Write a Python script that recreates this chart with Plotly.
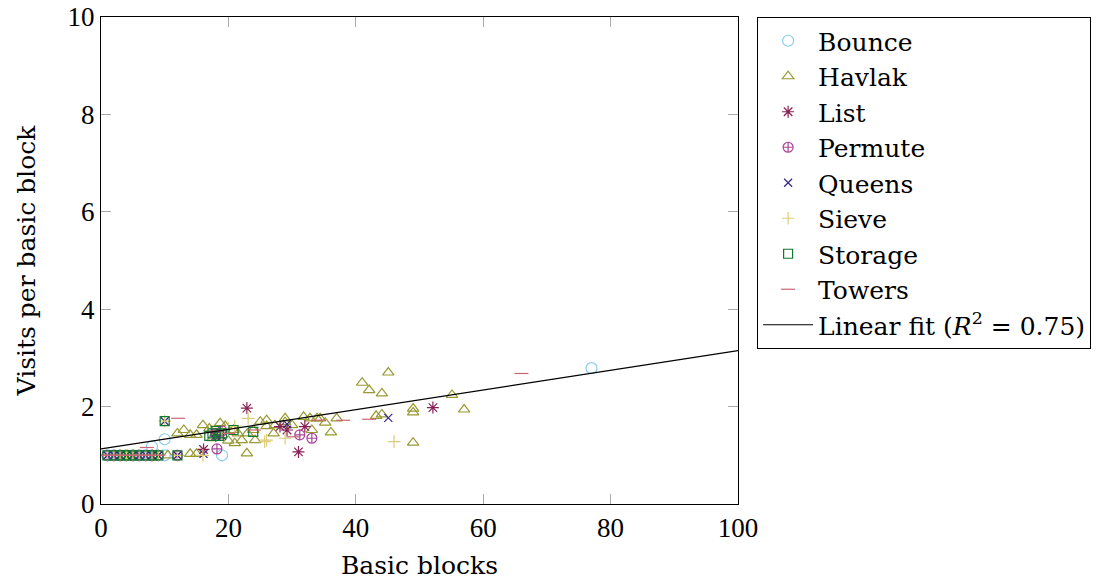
import plotly.graph_objects as go

# ---- data ----
bounce_x = [1, 2, 3, 4, 5, 6, 7, 8, 8, 10, 10, 19, 77]
bounce_y = [1, 1, 1, 1, 1, 1, 1, 1, 1.18, 1.0, 1.33, 1.0, 2.79]

havlak_x = [10.5, 12, 13, 14, 15, 16, 14, 15, 17, 18.7, 20, 20.8, 21, 22.1, 22.9, 23.9, 24.2,
            25, 26, 26, 27.1, 27.3, 28.9, 28.9, 30, 31.8, 32.8, 33.1, 33.9, 34.4, 35.2, 36.1,
            37, 41, 42.1, 43.2, 44.1, 44.1, 45.1, 49, 49, 49, 55.1, 57, 17.5, 19.5, 21.5, 23]
havlak_y = [1.0, 1.45, 1.52, 1.42, 1.42, 1.62, 1.03, 1.03, 1.55, 1.66, 1.3, 1.52, 1.25, 1.31, 1.04,
            1.52, 1.31, 1.69, 1.72, 1.6, 1.45, 1.62, 1.76, 1.68, 1.62, 1.79, 1.76, 1.52, 1.76, 1.76,
            1.67, 1.47, 1.76, 2.49, 2.34, 1.81, 2.27, 1.84, 2.70, 1.96, 1.88, 1.26, 2.24, 1.94,
            1.35, 1.6, 1.45, 1.45]

list_x = [1, 2, 3, 4, 5, 6, 7, 8, 9, 12, 16.1, 18, 18.7, 22.9, 28.1, 29.2, 31, 32, 52.1]
list_y = [1, 1, 1, 1, 1, 1, 1, 1, 1, 1.0, 1.12, 1.4, 1.45, 1.97, 1.59, 1.52, 1.07, 1.59, 1.98]

permute_x = [1, 2, 3, 4, 5, 6, 7, 8, 9, 12, 18.2, 18, 19, 31.2, 33.1]
permute_y = [1, 1, 1, 1, 1, 1, 1, 1, 1, 1.0, 1.13, 1.45, 1.5, 1.42, 1.35]

queens_x = [1, 2, 3, 4, 5, 6, 7, 8, 9, 10, 12, 16.1, 18, 19, 29.2, 45.1]
queens_y = [1, 1, 1, 1, 1, 1, 1, 1, 1, 1.7, 1.0, 1.03, 1.45, 1.4, 1.64, 1.77]

sieve_x = [1, 2, 3, 4, 5, 6, 7, 8, 9, 10, 12, 16, 19, 20, 21, 23.1, 25.7, 26, 28.9, 46]
sieve_y = [1, 1, 1, 1, 1, 1, 1, 1, 1, 1.7, 1.0, 1.0, 1.45, 1.55, 1.6, 1.76, 1.28, 1.31, 1.35, 1.28]

storage_x = [1, 2, 3, 4, 5, 6, 7, 8, 9, 10, 12, 17, 17.5, 18, 18.5, 19, 20.8, 23.9]
storage_y = [1, 1, 1, 1, 1, 1, 1, 1, 1, 1.7, 1.0, 1.4, 1.45, 1.5, 1.4, 1.45, 1.52, 1.48]

towers_x = [1, 2, 3, 4, 5, 6, 7, 7.2, 8, 9, 12.1, 18, 20, 24, 30.2, 34.1, 38, 42.1, 66]
towers_y = [1, 1, 1, 1, 1, 1, 1, 1.16, 1, 1, 1.76, 1.5, 1.45, 1.52, 1.38, 1.72, 1.72, 1.74, 2.68]

fit_slope = 0.0202
fit_intercept = 1.13
fit_x = [0, 100]

TICKFONT = "Liberation Serif"
TEXTFONT = "DejaVu Serif"

series = [
    ("Bounce", bounce_x, bounce_y, "circle-open", "#88CCEE", 11),
    ("Havlak", havlak_x, havlak_y, "triangle-up-open", "#999933", 10),
    ("List", list_x, list_y, "asterisk-open", "#882255", 10),
    ("Permute", permute_x, permute_y, "circle-cross-open", "#AA4499", 10),
    ("Queens", queens_x, queens_y, "x-thin-open", "#332288", 8),
    ("Sieve", sieve_x, sieve_y, "cross-thin-open", "#DDCC77", 9),
    ("Storage", storage_x, storage_y, "square-open", "#117733", 9),
    ("Towers", towers_x, towers_y, "line-ew-open", "#CC6677", 10),
]

fig = go.Figure()
for name, xs, ys, sym, col, sz in series:
    fig.add_trace(go.Scatter(
        x=xs, y=ys, mode="markers", name=name,
        marker=dict(symbol=sym, color=col, size=sz, line=dict(color=col, width=1.2)),
    ))

fig.add_trace(go.Scatter(
    x=fit_x, y=[fit_intercept + fit_slope * v for v in fit_x],
    mode="lines", name="Linear fit (<i>R</i><sup>2</sup> = 0.75)",
    line=dict(color="black", width=1.2),
))

axis_common = dict(
    showline=True, linecolor="black", linewidth=1, mirror="ticks",
    ticks="inside", ticklen=10, tickcolor="#aaaaaa", tickwidth=1,
    showgrid=False, zeroline=False, automargin=False,
    ticklabeloverflow="allow",
    tickfont=dict(family=TICKFONT, size=27, color="black"),
)

fig.update_layout(
    width=1100, height=584,
    margin=dict(l=101, r=362, t=17, b=80, autoexpand=False),
    paper_bgcolor="white", plot_bgcolor="white",
    font=dict(family=TEXTFONT, size=25, color="black"),
    xaxis=dict(range=[0, 100], tickvals=[0, 20, 40, 60, 80, 100],
               title=dict(text="Basic blocks", font=dict(family=TEXTFONT, size=25), standoff=14),
               **axis_common),
    yaxis=dict(range=[0, 10], tickvals=[0, 2, 4, 6, 8, 10],
               title=dict(text="Visits per basic block", font=dict(family=TEXTFONT, size=25), standoff=24),
               **axis_common),
    legend=dict(x=1.03, y=1, xanchor="left", yanchor="top",
                bordercolor="black", borderwidth=1, bgcolor="white",
                font=dict(family=TEXTFONT, size=25, color="black"),
                tracegroupgap=0, itemsizing="trace", itemwidth=50),
    showlegend=True,
)

# remove the default page margin so the figure fills the 1100x584 window exactly
fig.write_html("out.html", config={"displayModeBar": False},
               post_script="document.body.style.margin='0';")
